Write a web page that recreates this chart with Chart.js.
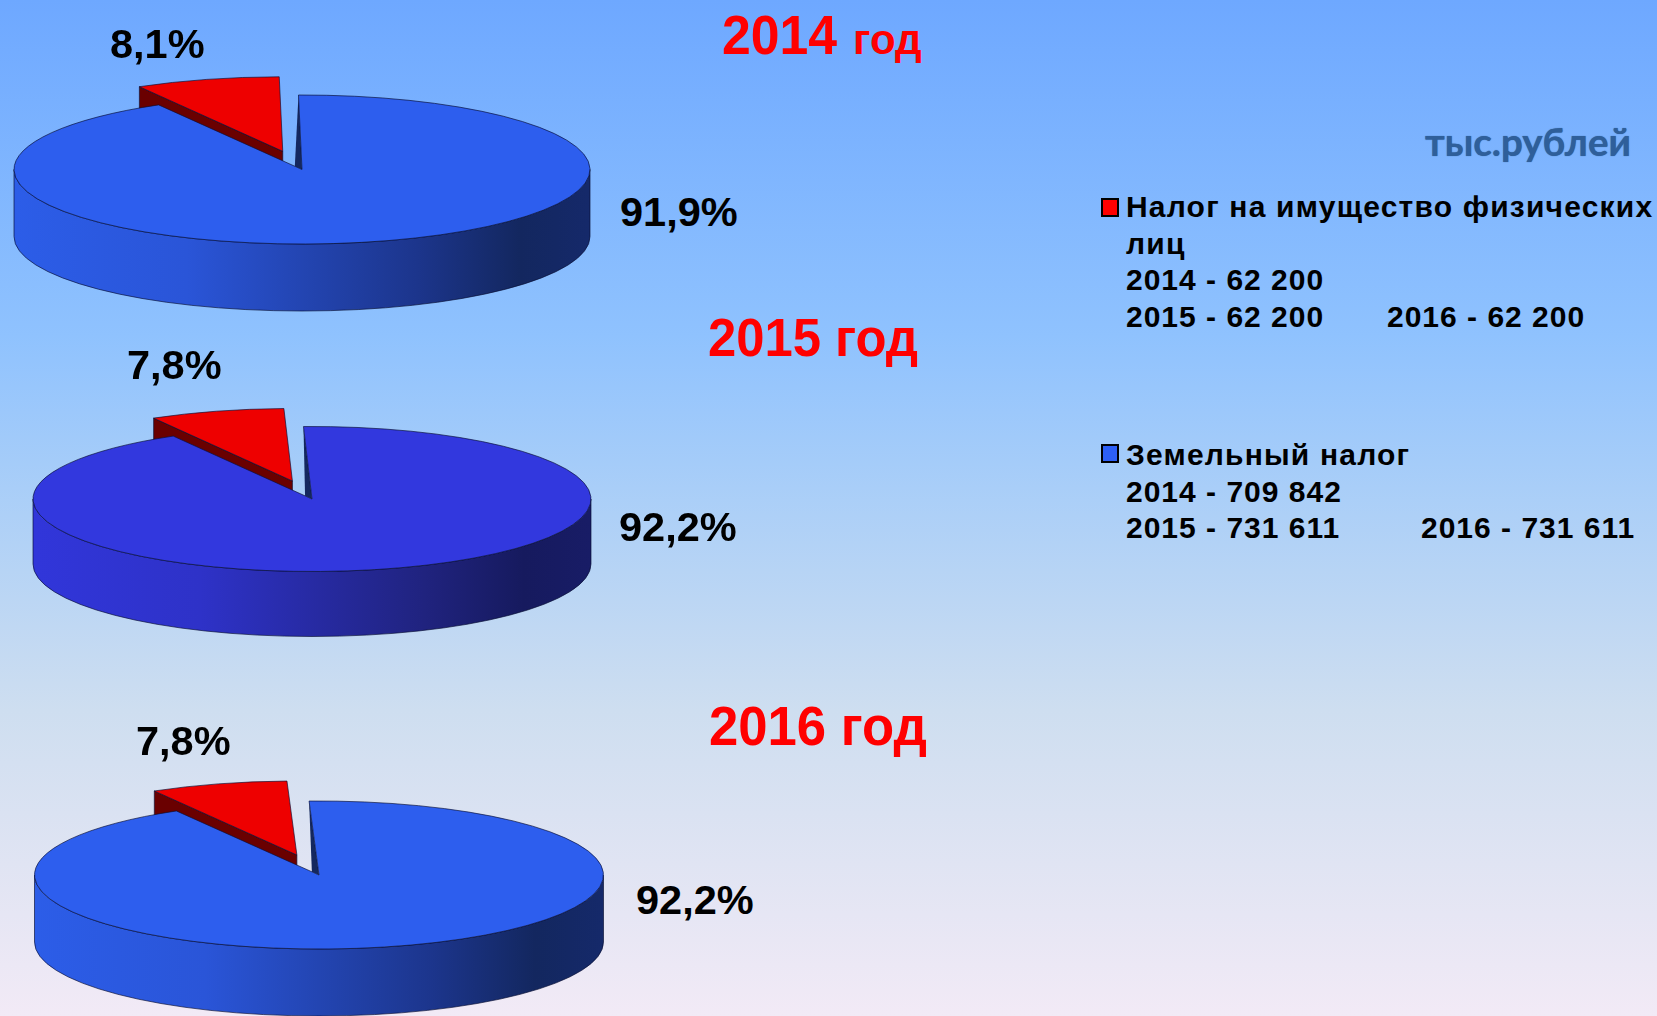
<!DOCTYPE html>
<html lang="ru">
<head>
<meta charset="utf-8">
<title>Налоги</title>
<script src="https://cdn.jsdelivr.net/npm/chart.js@4/dist/chart.umd.min.js"></script>
<style>
html,body{margin:0;padding:0;width:1657px;height:1016px;overflow:hidden}
body{position:relative;background:linear-gradient(180deg,#6EA8FF 0%,#8FC2FE 33%,#A9CEF8 48%,#CEDEF0 70%,#F2EAF6 100%);font-family:"Liberation Sans",Arial,sans-serif}
canvas{position:absolute}
.t{position:absolute;white-space:pre;line-height:1;font-weight:700;color:#000;transform-origin:0 0}
.sq{position:absolute;box-sizing:border-box;border:2px solid #000;width:18px;height:19px}
</style>
</head>
<body>
<script>
const categories = ['Налог на имущество физических лиц', 'Земельный налог'];
const years = ['2014', '2015', '2016'];
const propertyShare = [8.1, 7.8, 7.8];
const landShare = [91.9, 92.2, 92.2];
const propertyLabels = ['8,1%', '7,8%', '7,8%'];
const landLabels = ['91,9%', '92,2%', '92,2%'];
const propertyLines = ['2014 - 62 200', '2015 - 62 200', '2016 - 62 200'];
const landLines = ['2014 - 709 842', '2015 - 731 611', '2016 - 731 611'];
const unitLabel = 'тыс.рублей';

const pies = [
  {cx:302, cy:169.5, rx:288, ry:74.5, h:67, start:-0.7, off:292, top:'#2D5EEE', stops:['#2C5DE8','#2A55D8','#1C358C','#13275F','#15296A']},
  {cx:312, cy:499,   rx:279, ry:72.5, h:65, start:-1.75, off:288, top:'#3238DE', stops:['#3136DA','#2E32C8','#20237F','#161A5E','#181C66']},
  {cx:319, cy:875,   rx:284.5, ry:74, h:67, start:-2, off:320, top:'#2D5EEE', stops:['#2C5DE8','#2A55D8','#1C358C','#13275F','#15296A']}
];
const EDGE = 'rgba(8,14,50,0.65)';

function label(text, x, baseline, size, color, extra) {
  const d = document.createElement('div');
  d.className = 't';
  d.textContent = text;
  d.style.left = x + 'px';
  d.style.top = (baseline - 0.8465 * size) + 'px';
  d.style.fontSize = size + 'px';
  if (color) d.style.color = color;
  if (extra) Object.assign(d.style, extra);
  document.body.appendChild(d);
  return d;
}

const pie3d = {
  id: 'pie3d',
  afterDatasetsUpdate(chart) {
    // Chart.js enlarges and narrows an offset slice a little: undo both so the
    // pulled-out slice keeps the radius and the angle of its value.
    chart.getDatasetMeta(0).data.forEach((a, i) => {
      const off = (chart.data.datasets[0].offset[i] || 0) / 4;
      const fix = 1 - Math.sin(Math.min(Math.PI, a.circumference || 0));
      const grow = off * fix;
      a.trueStart = a.startAngle;
      a.trueEnd = a.endAngle;
      a.outerRadius = a.outerRadius - grow;
      const full = a.outerRadius + grow;
      const widen = grow / (2 * Math.PI * full);
      a.startAngle -= widen;
      a.endAngle += widen;
    });
  },
  beforeDatasetsDraw(chart, args, o) {
    const ctx = chart.ctx, arcs = chart.getDatasetMeta(0).data;
    const red = arcs[0], blue = arcs[1], r = o.rx, k = o.ry / o.rx;
    const X = blue.x, Y = blue.y;
    const sq = (y) => Y + (y - Y) * k;

    // wall of the pulled-out slice
    const mid = (red.trueStart + red.trueEnd) / 2, d = chart.data.datasets[0].offset[0] / 4;
    const ax = X + Math.cos(mid) * d, ay = Y + Math.sin(mid) * d;
    const lx = ax + Math.cos(red.trueStart) * r, ly = ay + Math.sin(red.trueStart) * r;
    ctx.save();
    ctx.beginPath();
    ctx.moveTo(ax, sq(ay)); ctx.lineTo(lx, sq(ly));
    ctx.lineTo(lx, sq(ly) + o.h); ctx.lineTo(ax, sq(ay) + o.h); ctx.closePath();
    ctx.fillStyle = '#6A0000'; ctx.fill();
    ctx.strokeStyle = EDGE; ctx.lineWidth = 1; ctx.stroke();

    // cylinder wall
    const g = ctx.createLinearGradient(X - r, 0, X + r, 0);
    [0, 0.3, 0.7, 0.88, 1].forEach((p, i) => g.addColorStop(p, o.stops[i]));
    ctx.beginPath();
    ctx.ellipse(X, Y, r, o.ry, 0, 0, Math.PI);
    ctx.lineTo(X - r, Y + o.h);
    ctx.ellipse(X, Y + o.h, r, o.ry, 0, Math.PI, 0, true);
    ctx.closePath();
    ctx.fillStyle = g; ctx.fill();
    ctx.strokeStyle = EDGE; ctx.stroke();

    // sliver of the inner wall beside the cut
    const sx = X + Math.cos(blue.trueStart) * r, sy = sq(Y + Math.sin(blue.trueStart) * r);
    const ex = X + Math.cos(blue.trueEnd) * r * 0.05, ey = sq(Y + Math.sin(blue.trueEnd) * r * 0.05);
    ctx.beginPath();
    ctx.moveTo(sx, sy); ctx.lineTo(X, Y); ctx.lineTo(ex, ey); ctx.closePath();
    ctx.fillStyle = '#14285F'; ctx.fill();
    ctx.restore();

    ctx.save();
    ctx.translate(X, Y); ctx.scale(1, k); ctx.translate(-X, -Y);
  },
  afterDatasetsDraw(chart, args, o) {
    const ctx = chart.ctx;
    ctx.restore();
    const arcs = chart.getDatasetMeta(0).data, r = o.rx, k = o.ry / o.rx;
    const X = arcs[1].x, Y = arcs[1].y;
    const offs = chart.data.datasets[0].offset;
    ctx.save();
    ctx.strokeStyle = EDGE; ctx.lineWidth = 1; ctx.lineJoin = 'round';
    arcs.forEach((a, i) => {
      const mid = (a.trueStart + a.trueEnd) / 2, d = (offs[i] || 0) / 4;
      const ax = X + Math.cos(mid) * d, ay = Y + Math.sin(mid) * d * k;
      ctx.beginPath();
      ctx.moveTo(ax, ay);
      ctx.ellipse(ax, ay, r, o.ry, 0, a.trueStart, a.trueEnd);
      ctx.closePath();
      ctx.stroke();
    });
    ctx.restore();
  }
};

pies.forEach((p, i) => {
  const W = 620, H = (p.cy % 1) ? 401 : 400;
  const cv = document.createElement('canvas');
  cv.width = W; cv.height = H;
  cv.style.cssText = `left:${p.cx - W / 2}px;top:${p.cy - H / 2}px;width:${W}px;height:${H}px`;
  document.body.appendChild(cv);
  new Chart(cv, {
    type: 'pie',
    data: {
      labels: categories,
      datasets: [{
        data: [propertyShare[i], landShare[i]],
        backgroundColor: ['#EE0000', p.top],
        borderWidth: 0,
        offset: [p.off, 0],
        radius: p.rx,
        clip: false
      }]
    },
    options: {
      responsive: false,
      animation: false,
      devicePixelRatio: 1,
      events: [],
      rotation: p.start - propertyShare[i] * 3.6,
      layout: {padding: 0},
      plugins: {legend: {display: false}, tooltip: {enabled: false}, pie3d: {rx: p.rx, ry: p.ry, h: p.h, stops: p.stops}}
    },
    plugins: [pie3d]
  });
});

// titles
const tall = {transform: 'scaleX(0.94)'};
label(years[0], 722, 55, 55, '#FF0000', tall);
label('год', 853, 55, 42, '#FF0000');
label(years[1] + ' год', 708, 356, 54, '#FF0000', tall);
label(years[2] + ' год', 709, 745, 56, '#FF0000', tall);

// percent labels
label(propertyLabels[0], 110, 58, 41.5);
label(landLabels[0], 620, 226, 41.5);
label(propertyLabels[1], 127, 379, 41.5);
label(landLabels[1], 619, 541, 41.5);
label(propertyLabels[2], 136, 755, 41.5);
label(landLabels[2], 636, 914, 41.5);

// unit
label(unitLabel, 1425, 155, 38.5, '#2F5F9A', {fontFamily: 'Lato, sans-serif', textShadow: '0 0 1px #2F5F9A'});

// legend
const sp = {letterSpacing: '1px'};
const spCyr = {letterSpacing: '1.2px'};
function sq(x, y, c) {
  const s = document.createElement('div');
  s.className = 'sq'; s.style.left = x + 'px'; s.style.top = y + 'px'; s.style.background = c;
  document.body.appendChild(s);
}
sq(1101, 198, '#FF0000');
label('Налог на имущество физических', 1126, 217, 30, null, spCyr);
label('лиц', 1126, 254, 30, null, spCyr);
label(propertyLines[0], 1126, 290, 30, null, sp);
label(propertyLines[1], 1126, 327, 30, null, sp);
label(propertyLines[2], 1387, 327, 30, null, sp);
sq(1101, 444, '#2D5FF5');
label(categories[1], 1126, 465, 30, null, spCyr);
label(landLines[0], 1126, 502, 30, null, sp);
label(landLines[1], 1126, 538, 30, null, sp);
label(landLines[2], 1421, 538, 30, null, sp);
</script>
</body>
</html>
